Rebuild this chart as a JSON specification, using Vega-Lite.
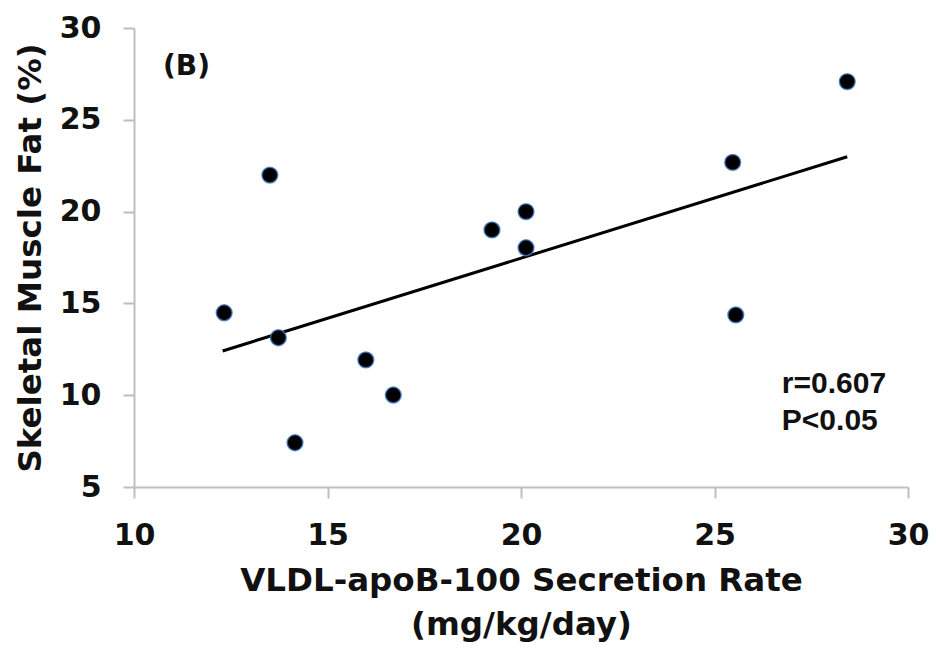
{
  "$schema": "https://vega.github.io/schema/vega-lite/v6.json",
  "width": 774,
  "height": 459,
  "autosize": {"type": "none"},
  "padding": {"left": 134, "top": 28, "right": 28, "bottom": 168},
  "background": "white",
  "config": {
    "view": {"stroke": null},
    "font": "DejaVu Sans",
    "axis": {
      "grid": false,
      "domainColor": "#bfbfbf",
      "domainWidth": 2,
      "tickColor": "#bfbfbf",
      "tickWidth": 2,
      "tickSize": 11,
      "labelFlush": false,
      "labelFont": "DejaVu Sans",
      "labelFontWeight": "bold",
      "labelFontSize": 30,
      "labelColor": "#111111",
      "titleFont": "DejaVu Sans",
      "titleFontWeight": "bold",
      "titleFontSize": 32.5,
      "titleColor": "#111111"
    }
  },
  "datasets": {
    "points": [
      {"rate": 12.33, "fat": 14.49},
      {"rate": 13.51, "fat": 21.99},
      {"rate": 13.73, "fat": 13.13},
      {"rate": 14.16, "fat": 7.41},
      {"rate": 15.99, "fat": 11.92},
      {"rate": 16.70, "fat": 10.01},
      {"rate": 19.25, "fat": 19.0},
      {"rate": 20.13, "fat": 20.0},
      {"rate": 20.13, "fat": 18.03},
      {"rate": 25.47, "fat": 22.68},
      {"rate": 25.55, "fat": 14.37},
      {"rate": 28.43, "fat": 27.08}
    ],
    "fit": [
      {"rate": 12.29, "fat": 12.41},
      {"rate": 28.43, "fat": 22.99}
    ],
    "panel": [
      {"rate": 10.75, "fat": 27.45, "text": "(B)"}
    ],
    "stats": [
      {"rate": 26.74, "fat": 10.12, "text": "r=0.607"},
      {"rate": 26.74, "fat": 8.1, "text": "P<0.05"}
    ]
  },
  "layer": [
    {
      "data": {"name": "fit"},
      "mark": {"type": "line", "color": "black", "strokeWidth": 3},
      "encoding": {
        "x": {
          "field": "rate", "type": "quantitative",
          "scale": {"domain": [10, 30], "nice": false, "zero": false},
          "axis": {
            "values": [10, 15, 20, 25, 30],
            "labelPadding": 22,
            "title": ["VLDL-apoB-100  Secretion Rate", "(mg/kg/day)"],
            "titlePadding": 14,
            "titleLineHeight": 44
          }
        },
        "y": {
          "field": "fat", "type": "quantitative",
          "scale": {"domain": [5, 30], "nice": false, "zero": false},
          "axis": {
            "values": [5, 10, 15, 20, 25, 30],
            "labelPadding": 22,
            "title": "Skeletal Muscle Fat (%)",
            "titlePadding": 12
          }
        }
      }
    },
    {
      "data": {"name": "points"},
      "mark": {"type": "point", "filled": true, "fill": "black", "stroke": "#3f78c0", "strokeWidth": 1.5, "strokeOpacity": 0.8, "fillOpacity": 1, "size": 250, "shape": "circle"},
      "encoding": {
        "x": {"field": "rate", "type": "quantitative"},
        "y": {"field": "fat", "type": "quantitative"}
      }
    },
    {
      "data": {"name": "panel"},
      "mark": {"type": "text", "align": "left", "baseline": "alphabetic", "fontWeight": "bold", "font": "DejaVu Sans", "fontSize": 28, "color": "#111111"},
      "encoding": {
        "x": {"field": "rate", "type": "quantitative"},
        "y": {"field": "fat", "type": "quantitative"},
        "text": {"field": "text"}
      }
    },
    {
      "data": {"name": "stats"},
      "mark": {"type": "text", "align": "left", "baseline": "alphabetic", "fontWeight": "bold", "font": "Liberation Sans", "fontSize": 30, "color": "#111111"},
      "encoding": {
        "x": {"field": "rate", "type": "quantitative"},
        "y": {"field": "fat", "type": "quantitative"},
        "text": {"field": "text"}
      }
    }
  ]
}
